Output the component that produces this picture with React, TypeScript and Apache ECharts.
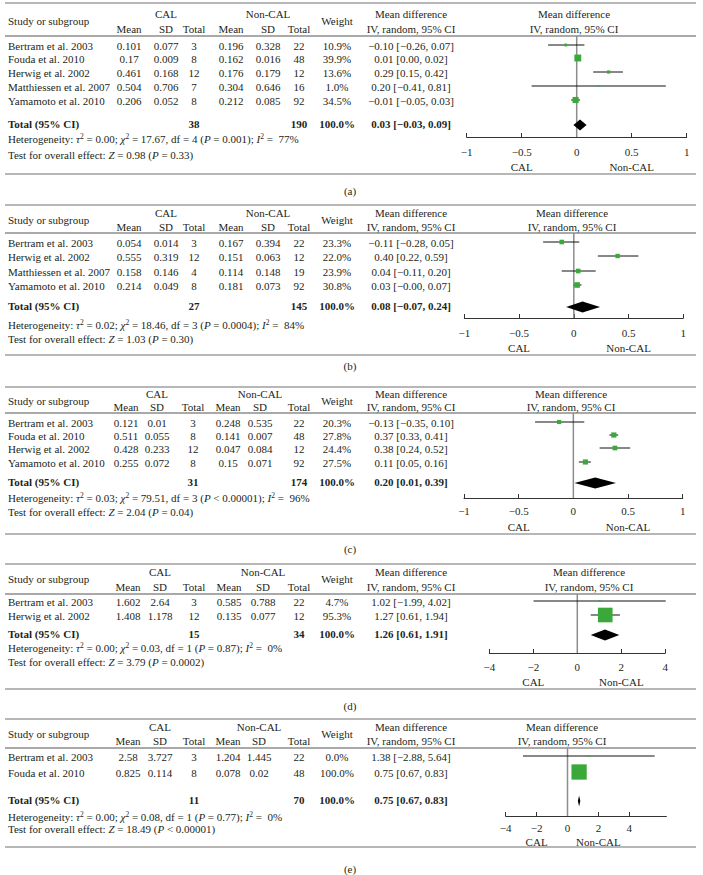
import React, { useEffect, useRef } from 'react';
import * as echarts from 'echarts';

// ---------------- DATA ----------------
const panelLabels = ['(a)', '(b)', '(c)', '(d)', '(e)'];
const studies = [
  ['Bertram et al. 2003', 'Fouda et al. 2010', 'Herwig et al. 2002', 'Matthiessen et al. 2007', 'Yamamoto et al. 2010'],
  ['Bertram et al. 2003', 'Herwig et al. 2002', 'Matthiessen et al. 2007', 'Yamamoto et al. 2010'],
  ['Bertram et al. 2003', 'Fouda et al. 2010', 'Herwig et al. 2002', 'Yamamoto et al. 2010'],
  ['Bertram et al. 2003', 'Herwig et al. 2002'],
  ['Bertram et al. 2003', 'Fouda et al. 2010'],
];
const calMean = [
  ['0.101', '0.17', '0.461', '0.504', '0.206'],
  ['0.054', '0.555', '0.158', '0.214'],
  ['0.121', '0.511', '0.428', '0.255'],
  ['1.602', '1.408'],
  ['2.58', '0.825'],
];
const calSD = [
  ['0.077', '0.009', '0.168', '0.706', '0.052'],
  ['0.014', '0.319', '0.146', '0.049'],
  ['0.01', '0.055', '0.233', '0.072'],
  ['2.64', '1.178'],
  ['3.727', '0.114'],
];
const calN = [[3, 8, 12, 7, 8], [3, 12, 4, 8], [3, 8, 12, 8], [3, 12], [3, 8]];
const ncMean = [
  ['0.196', '0.162', '0.176', '0.304', '0.212'],
  ['0.167', '0.151', '0.114', '0.181'],
  ['0.248', '0.141', '0.047', '0.15'],
  ['0.585', '0.135'],
  ['1.204', '0.078'],
];
const ncSD = [
  ['0.328', '0.016', '0.179', '0.646', '0.085'],
  ['0.394', '0.063', '0.148', '0.073'],
  ['0.535', '0.007', '0.084', '0.071'],
  ['0.788', '0.077'],
  ['1.445', '0.02'],
];
const ncN = [[22, 48, 12, 16, 92], [22, 12, 19, 92], [22, 48, 12, 92], [22, 12], [22, 48]];
const weights = [
  [10.9, 39.9, 13.6, 1.0, 34.5],
  [23.3, 22.0, 23.9, 30.8],
  [20.3, 27.8, 24.4, 27.5],
  [4.7, 95.3],
  [0.0, 100.0],
];
const md = [
  [-0.10, 0.01, 0.29, 0.20, -0.01],
  [-0.11, 0.40, 0.04, 0.03],
  [-0.13, 0.37, 0.38, 0.11],
  [1.02, 1.27],
  [1.38, 0.75],
];
const ciLow = [
  [-0.26, 0.00, 0.15, -0.41, -0.05],
  [-0.28, 0.22, -0.11, -0.00],
  [-0.35, 0.33, 0.24, 0.05],
  [-1.99, 0.61],
  [-2.88, 0.67],
];
const ciHigh = [
  [0.07, 0.02, 0.42, 0.81, 0.03],
  [0.05, 0.59, 0.20, 0.07],
  [0.10, 0.41, 0.52, 0.16],
  [4.02, 1.94],
  [5.64, 0.83],
];
const totalCalN = [38, 27, 31, 15, 11];
const totalNcN = [190, 145, 174, 34, 70];
const totalWeight = [100.0, 100.0, 100.0, 100.0, 100.0];
const totalMD = [0.03, 0.08, 0.20, 1.26, 0.75];
const totalLow = [-0.03, -0.07, 0.01, 0.61, 0.67];
const totalHigh = [0.09, 0.24, 0.39, 1.91, 0.83];
const tau2 = ['0.00', '0.02', '0.03', '0.00', '0.00'];
const chi2 = ['17.67', '18.46', '79.51', '0.03', '0.08'];
const dfs = [4, 3, 3, 1, 1];
const hetP = ['= 0.001', '= 0.0004', '< 0.00001', '= 0.87', '= 0.77'];
const iSq = ['77%', '84%', '96%', '0%', '0%'];
const zStat = ['0.98', '1.03', '2.04', '3.79', '18.49'];
const zP = ['= 0.33', '= 0.30', '= 0.04', '= 0.0002', '< 0.00001'];
const axisMin = [-1, -1, -1, -4, -4];
const axisMax = [1, 1, 1, 4, 6.4];
const tickValues = [
  [-1, -0.5, 0, 0.5, 1],
  [-1, -0.5, 0, 0.5, 1],
  [-1, -0.5, 0, 0.5, 1],
  [-4, -2, 0, 2, 4],
  [-4, -2, 0, 2, 4],
];
const favourLabels = ['CAL', 'Non-CAL'];

// ---------------- LAYOUT ----------------
const FONT = "'Liberation Serif', 'DejaVu Serif', serif";
const INK = '#231f20';
const GREEN = '#3aa93a';
const layouts = [
  { top: 3, h1: 14, hm: 21, h2: 29, hline: 36, rows: [46, 59, 73, 87, 101], total: 124, het: 139, test: 155, axis: 137, lblMargin: 9, cal: 167, bottom: 174, cap: 191, xl: 466.7, xr: 686.7, plotHdrX: 574, half: 0.5, cols: [129, 166, 194, 231, 268, 299] },
  { top: 205, h1: 213, hm: 220, h2: 227, hline: 233, rows: [243, 257, 272, 286], total: 306, het: 325, test: 339, axis: 318, lblMargin: 9, cal: 348, bottom: 355, cap: 366, xl: 464.3, xr: 683.3, plotHdrX: 572, half: 0.5, cols: [129, 166, 194, 231, 268, 299] },
  { top: 387, h1: 394, hm: 401, h2: 407, hline: 413, rows: [423, 436, 449, 463], total: 482, het: 498, test: 512, axis: 498, lblMargin: 7, cal: 527, bottom: 534, cap: 549, xl: 464, xr: 682.7, plotHdrX: 571, half: 0.5, cols: [126, 157, 193, 228, 260, 299] },
  { top: 564, h1: 572, hm: 579, h2: 587, hline: 594, rows: [602, 616], total: 634, het: 648, test: 662, axis: 653, lblMargin: 8, cal: 682, bottom: 689, cap: 706, xl: 489.3, xr: 665.3, plotHdrX: 589, half: 2, cols: [128, 160, 194, 229, 263, 299] },
  { top: 719, h1: 727, hm: 734, h2: 741, hline: 748, rows: [757, 773], total: 800, het: 817, test: 829, axis: 816, lblMargin: 6, cal: 842, bottom: 847, cap: 869, xl: 505.7, xr: 666.4, plotHdrX: 562, half: 2, cols: [128, 160, 194, 228, 259, 299] },
];
const WEIGHT_X = 337;
const MD_X = 411;

const fmt2 = (v: number) =>
  v < 0 || Object.is(v, -0) ? '\u2212' + Math.abs(v).toFixed(2) : v.toFixed(2);
const mdText = (m: number, l: number, h: number) => `${fmt2(m)} [${fmt2(l)}, ${fmt2(h)}]`;
const tickFmt = (v: number) => (v < 0 ? '\u2212' + Math.abs(v) : String(v));

function txt(x: number, y: number, text: string, align = 'center', bold = false, extra: any = {}) {
  return {
    type: 'text',
    x,
    y,
    silent: true,
    style: {
      text,
      fill: INK,
      fontFamily: FONT,
      fontSize: 11,
      fontWeight: bold ? 'bold' : 'normal',
      align,
      textAlign: align,
      verticalAlign: 'middle',
      textVerticalAlign: 'middle',
      ...extra,
    },
  };
}

const richStyles = {
  i: { fontFamily: FONT, fontSize: 11, fontStyle: 'italic', fill: INK, lineHeight: 14 },
  s: { fontFamily: FONT, fontSize: 7.5, fill: INK, lineHeight: 7, verticalAlign: 'top' },
};

function hline(y: number, color = '#707070', w = 1.2) {
  return {
    type: 'line',
    silent: true,
    shape: { x1: 5, y1: y, x2: 696, y2: y },
    style: { stroke: color, lineWidth: w },
  };
}

function buildOption() {
  const graphics: any[] = [];
  const grids: any[] = [];
  const xAxes: any[] = [];
  const yAxes: any[] = [];
  const series: any[] = [];

  layouts.forEach((L, p) => {
    // lines
    graphics.push(hline(L.top));
    graphics.push(hline(L.hline, '#555555', 1.2));
    graphics.push(hline(L.bottom));
    // headers
    graphics.push(txt(8, L.hm, 'Study or subgroup', 'left'));
    graphics.push(txt(L.cols[1], L.h1, 'CAL'));
    graphics.push(txt(L.cols[4], L.h1, 'Non-CAL'));
    graphics.push(txt(WEIGHT_X, L.hm, 'Weight'));
    graphics.push(txt(MD_X, L.h1, 'Mean difference'));
    graphics.push(txt(MD_X, L.h2, 'IV, random, 95% CI'));
    ['Mean', 'SD', 'Total', 'Mean', 'SD', 'Total'].forEach((h, k) => graphics.push(txt(L.cols[k], L.h2, h)));
    graphics.push(txt(L.plotHdrX, L.h1, 'Mean difference'));
    graphics.push(txt(L.plotHdrX, L.h2, 'IV, random, 95% CI'));

    // rows
    const H = L.axis - L.hline;
    const data: any[] = [];
    studies[p].forEach((s, i) => {
      const y = L.rows[i];
      graphics.push(txt(8, y, s, 'left'));
      const vals = [calMean[p][i], calSD[p][i], String(calN[p][i]), ncMean[p][i], ncSD[p][i], String(ncN[p][i])];
      vals.forEach((v, k) => graphics.push(txt(L.cols[k], y, v)));
      graphics.push(txt(WEIGHT_X, y, weights[p][i].toFixed(1) + '%'));
      graphics.push(txt(MD_X, y, mdText(md[p][i], ciLow[p][i], ciHigh[p][i])));
      data.push([md[p][i], y - L.hline - 1, ciLow[p][i], ciHigh[p][i], weights[p][i], 0]);
    });
    // total
    graphics.push(txt(8, L.total, 'Total (95% CI)', 'left', true));
    graphics.push(txt(L.cols[2], L.total, String(totalCalN[p]), 'center', true));
    graphics.push(txt(L.cols[5], L.total, String(totalNcN[p]), 'center', true));
    graphics.push(txt(WEIGHT_X, L.total, totalWeight[p].toFixed(1) + '%', 'center', true));
    graphics.push(txt(MD_X, L.total, mdText(totalMD[p], totalLow[p], totalHigh[p]), 'center', true));
    data.push([totalMD[p], L.total - L.hline + 1, totalLow[p], totalHigh[p], totalWeight[p], 1]);

    // heterogeneity & test
    graphics.push(
      txt(
        8,
        L.het,
        `Heterogeneity: {i|\u03c4}{s|2} = ${tau2[p]}; {i|\u03c7}{s|2} = ${chi2[p]}, df = ${dfs[p]} ({i|P} ${hetP[p]}); {i|I}{s|2} =  ${iSq[p]}`,
        'left',
        false,
        { rich: richStyles, lineHeight: 14 }
      )
    );
    graphics.push(
      txt(8, L.test, `Test for overall effect: {i|Z} = ${zStat[p]} ({i|P} ${zP[p]})`, 'left', false, {
        rich: richStyles,
        lineHeight: 14,
      })
    );

    // favour labels
    const toPx = (v: number) => L.xl + ((v - axisMin[p]) / (axisMax[p] - axisMin[p])) * (L.xr - L.xl);
    graphics.push(txt(toPx(-L.half), L.cal, favourLabels[0]));
    graphics.push(txt(toPx(L.half), L.cal, favourLabels[1]));

    // caption
    graphics.push(txt(350, L.cap, panelLabels[p]));

    // plot
    grids.push({
      left: L.xl,
      width: L.xr - L.xl,
      top: L.hline,
      height: H,
      containLabel: false,
      outerBoundsMode: 'none',
    });
    const xa: any = {
      gridIndex: p,
      type: 'value',
      min: axisMin[p],
      max: axisMax[p],
      axisLine: { show: true, onZero: false, lineStyle: { color: '#333', width: 1 } },
      axisTick: { show: true, inside: true, length: 4, lineStyle: { color: '#333', width: 1 } },
      axisLabel: {
        show: true,
        margin: L.lblMargin,
        color: INK,
        fontFamily: FONT,
        fontSize: 11,
        formatter: (v: number) => (v > tickValues[p][tickValues[p].length - 1] + 1e-9 ? '' : tickFmt(v)),
      },
      splitLine: { show: false },
    };
    if (p === 4) {
      xa.axisTick.customValues = tickValues[p];
      xa.axisLabel.customValues = tickValues[p];
    } else {
      xa.interval = tickValues[p][1] - tickValues[p][0];
    }
    xAxes.push(xa);
    yAxes.push({ gridIndex: p, type: 'value', min: 0, max: H, inverse: true, show: false });

    series.push({
      type: 'line',
      xAxisIndex: p,
      yAxisIndex: p,
      data: [
        [0, 0],
        [0, H],
      ],
      symbol: 'none',
      silent: true,
      z: 1,
      lineStyle: { color: '#8c8c8c', width: 1.5 },
    });
    series.push({
      type: 'custom',
      xAxisIndex: p,
      yAxisIndex: p,
      silent: true,
      z: 3,
      encode: { x: [0, 2, 3], y: 1 },
      data,
      renderItem: (_params: any, api: any) => {
        const m = api.value(0);
        const y = api.value(1);
        const lo = api.value(2);
        const hi = api.value(3);
        const w = api.value(4);
        const kind = api.value(5);
        const pm = api.coord([m, y]);
        const pl = api.coord([lo, y]);
        const ph = api.coord([hi, y]);
        if (kind === 1) {
          const h = 5.5;
          return {
            type: 'polygon',
            shape: {
              points: [
                [pl[0], pm[1]],
                [pm[0], pm[1] - h],
                [ph[0], pm[1]],
                [pm[0], pm[1] + h],
              ],
            },
            style: { fill: '#000' },
          };
        }
        const sz = 0.14 * w + 1.3;
        return {
          type: 'group',
          children: [
            {
              type: 'line',
              shape: { x1: pl[0], y1: pm[1], x2: ph[0], y2: pm[1] },
              style: { stroke: '#111', lineWidth: 1 },
            },
            {
              type: 'rect',
              shape: { x: pm[0] - sz / 2, y: pm[1] - sz / 2, width: sz, height: sz },
              style: { fill: GREEN },
            },
          ],
        };
      },
    });
  });

  return {
    animation: false,
    backgroundColor: '#ffffff',
    grid: grids,
    xAxis: xAxes,
    yAxis: yAxes,
    series,
    graphic: { elements: graphics },
  };
}

export default function App() {
  const ref = useRef<HTMLDivElement>(null);
  useEffect(() => {
    if (!ref.current) return;
    const chart = echarts.init(ref.current, null, { renderer: 'svg' });
    chart.setOption(buildOption() as any);
    return () => chart.dispose();
  }, []);
  return (
    <div
      ref={ref}
      style={{ position: 'absolute', left: 0, top: 0, width: 703, height: 875, background: '#fff' }}
    />
  );
}
